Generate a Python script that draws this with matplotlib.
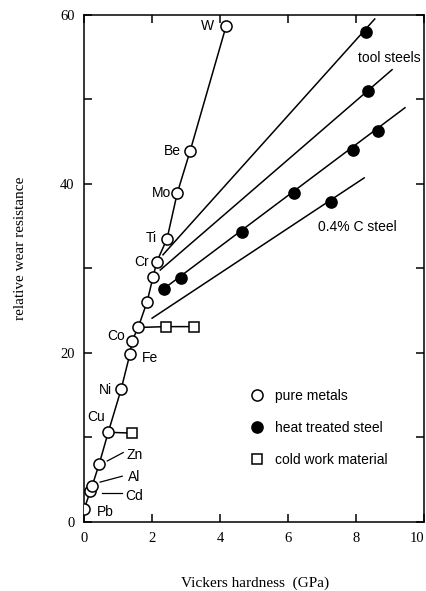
import matplotlib
matplotlib.use("Agg")
import matplotlib.pyplot as plt

# pure metals (Vickers hardness GPa, relative wear resistance)
metal_names = ["Pb", "Cd", "Al", "Zn", "Cu", "Ni", "Fe", "Co", "", "", "", "Cr", "Ti", "Mo", "Be", "W"]
metal_hv = [0.0, 0.18, 0.24, 0.44, 0.71, 1.09, 1.35, 1.41, 1.59, 1.85, 2.03, 2.14, 2.44, 2.74, 3.12, 4.18]
metal_wr = [1.5, 3.6, 4.3, 6.8, 10.6, 15.7, 19.9, 21.4, 23.0, 26.0, 29.0, 30.8, 33.5, 38.9, 43.9, 58.7]

# heat treated steels: fitted lines and measured points
steel_line_hv = [[2.32, 8.55], [2.24, 9.06], [2.35, 9.44], [2.0, 8.24]]
steel_line_wr = [[31.6, 59.5], [29.8, 53.5], [27.6, 49.0], [24.1, 40.7]]
steel_hv = [8.29, 8.35, 2.35, 2.85, 4.65, 6.18, 7.92, 8.65, 7.26]
steel_wr = [58.0, 51.0, 27.6, 28.9, 34.3, 38.9, 44.0, 46.3, 37.9]

# cold worked material
cold_hv = [2.41, 3.24, 1.41]
cold_wr = [23.1, 23.1, 10.5]
cold_links = [([1.59, 2.41, 3.24], [23.0, 23.1, 23.1]), ([0.71, 1.41], [10.6, 10.5])]

# label positions for the metals (x, y, ha)
label_pos = {
    "W": (3.82, 58.7, "right"), "Be": (2.86, 43.9, "right"), "Mo": (2.56, 38.9, "right"),
    "Ti": (2.15, 33.6, "right"), "Cr": (1.92, 30.7, "right"), "Co": (1.19, 22.0, "right"),
    "Fe": (1.71, 19.4, "left"), "Ni": (0.82, 15.6, "right"), "Cu": (0.62, 12.4, "right"),
    "Zn": (1.26, 7.9, "left"), "Al": (1.29, 5.3, "left"), "Cd": (1.21, 3.1, "left"),
    "Pb": (0.38, 1.2, "left"),
}
leaders = {"Zn": ([0.68, 1.15], [7.2, 8.2]), "Al": ([0.47, 1.12], [4.7, 5.4]), "Cd": ([0.53, 1.12], [3.4, 3.4])}

plt.rcParams["font.family"] = "Liberation Serif"
sans = "Liberation Sans"

fig = plt.figure(figsize=(4.27, 5.91), dpi=100)
ax = fig.add_axes([0.197, 0.117, 0.796, 0.858])

lw = 1.1
ms = 8

# lines first, markers on top
ax.plot(metal_hv, metal_wr, color="black", lw=lw, zorder=2)
for xs, ys in zip(steel_line_hv, steel_line_wr):
    ax.plot(xs, ys, color="black", lw=lw, zorder=2)
for xs, ys in cold_links:
    ax.plot(xs, ys, color="black", lw=lw, zorder=2)
for name, (xs, ys) in leaders.items():
    ax.plot(xs, ys, color="black", lw=0.9, zorder=2)

h_pure, = ax.plot(metal_hv, metal_wr, ls="", marker="o", ms=ms, mfc="white", mec="black",
                  mew=lw, zorder=3, label="pure metals")
h_heat, = ax.plot(steel_hv, steel_wr, ls="", marker="o", ms=ms, mfc="black", mec="black",
                  mew=lw, zorder=3, label="heat treated steel")
h_cold, = ax.plot(cold_hv, cold_wr, ls="", marker="s", ms=ms - 0.5, mfc="white", mec="black",
                  mew=lw, zorder=3, label="cold work material")

for name, (x, y, ha) in label_pos.items():
    ax.text(x, y, name, ha=ha, va="center", fontsize=10, family=sans)

ax.text(8.97, 54.9, "tool steels", ha="center", va="center", fontsize=10, family=sans)
ax.text(6.88, 34.9, "0.4% C steel", ha="left", va="center", fontsize=10, family=sans)

ax.legend(handles=[h_pure, h_heat, h_cold], loc="upper left", bbox_to_anchor=(0.488, 0.262),
          frameon=False, prop={"family": sans, "size": 10}, handlelength=1.0,
          handletextpad=0.8, labelspacing=1.3, borderpad=0, borderaxespad=0)

ax.set_xlim(0, 10)
ax.set_ylim(0, 60)
ax.set_xticks([0, 2, 4, 6, 8, 10])
ax.set_yticks([0, 10, 20, 30, 40, 50, 60])
ax.set_yticklabels(["0", "", "20", "", "40", "", "60"])
ax.tick_params(direction="in", length=6, width=lw, labelsize=10.5, top=True, right=True, pad=7)
# keep the last x label inside the figure
ax.get_xticklabels()[-1].set_horizontalalignment("right")
for s in ax.spines.values():
    s.set_linewidth(lw)

fig.text(0.597, 0.0135, "Vickers hardness  (GPa)", ha="center", va="center", fontsize=11)
fig.text(0.047, 0.579, "relative wear resistance", ha="center", va="center", rotation=90, fontsize=11)

fig.savefig("out.png", dpi=100)
